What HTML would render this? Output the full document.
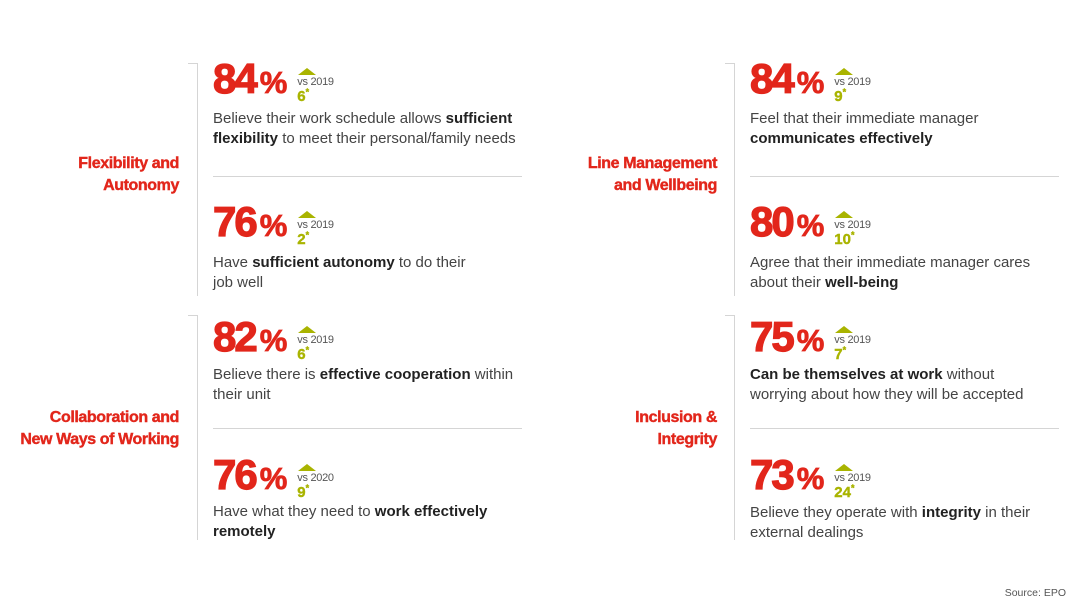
<!DOCTYPE html>
<html><head><meta charset="utf-8"><style>
body{margin:0;width:1080px;height:608px;background:#fff;position:relative;overflow:hidden;font-family:"Liberation Sans",sans-serif;}
.a{position:absolute;}
.lab{position:absolute;color:#e2261b;font-weight:bold;font-size:16px;line-height:22px;text-align:right;letter-spacing:-0.4px;-webkit-text-stroke:0.4px #e2261b;}
.row{position:absolute;display:flex;align-items:flex-start;white-space:nowrap;}
.num{color:#e2261b;font-weight:bold;font-size:42px;line-height:42px;letter-spacing:-2px;-webkit-text-stroke:1.2px #e2261b;}
.num .p{font-size:31px;letter-spacing:0;margin-left:4px;-webkit-text-stroke:0.8px #e2261b;}
.chg{position:relative;width:40px;height:40px;margin-left:10px;margin-top:10px;}
.tri{position:absolute;left:1px;top:0;width:0;height:0;border-left:9px solid transparent;border-right:9px solid transparent;border-bottom:7px solid #a9b400;}
.vs{position:absolute;left:0;top:8px;font-size:11px;color:#555;white-space:nowrap;letter-spacing:-0.3px;}
.g{position:absolute;left:0;top:20px;font-size:15px;font-weight:bold;color:#a9b400;white-space:nowrap;-webkit-text-stroke:0.4px #a9b400;}
.g sup{font-size:9px;vertical-align:top;position:relative;top:-1px;}
.d{position:absolute;font-size:15px;line-height:20px;color:#444;white-space:nowrap;}
.d b{color:#222;}
.sep{position:absolute;height:1px;background:#d5d5d5;}
.vl{position:absolute;width:1px;background:#d5d5d5;}
.tk{position:absolute;height:1px;width:9px;background:#d5d5d5;}
</style></head><body>

<div class="lab" style="right:901px;top:153px;">Flexibility and<br>Autonomy</div>
<div class="lab" style="right:901px;top:407px;">Collaboration and<br>New Ways of Working</div>
<div class="lab" style="right:363px;top:153px;">Line Management<br>and Wellbeing</div>
<div class="lab" style="right:363px;top:407px;">Inclusion &amp;<br>Integrity</div>

<div class="vl" style="left:197px;top:63px;height:233px"></div><div class="tk" style="left:188px;top:63px"></div>
<div class="vl" style="left:197px;top:315px;height:225px"></div><div class="tk" style="left:188px;top:315px"></div>
<div class="vl" style="left:734px;top:63px;height:233px"></div><div class="tk" style="left:725px;top:63px"></div>
<div class="vl" style="left:734px;top:315px;height:225px"></div><div class="tk" style="left:725px;top:315px"></div>

<div class="sep" style="left:213px;top:176px;width:309px"></div>
<div class="sep" style="left:213px;top:428px;width:309px"></div>
<div class="sep" style="left:750px;top:176px;width:309px"></div>
<div class="sep" style="left:750px;top:428px;width:309px"></div>

<div class="row" style="left:213px;top:58px"><div class="num">84<span class="p">%</span></div><div class="chg"><div class="tri"></div><div class="vs">vs 2019</div><div class="g">6<sup>*</sup></div></div></div>
<div class="d" style="left:213px;top:109px">Believe their work schedule allows <b>sufficient</b><br><b>flexibility</b> to meet their personal/family needs</div>

<div class="row" style="left:213px;top:201px"><div class="num">76<span class="p">%</span></div><div class="chg"><div class="tri"></div><div class="vs">vs 2019</div><div class="g">2<sup>*</sup></div></div></div>
<div class="d" style="left:213px;top:253px">Have <b>sufficient autonomy</b> to do their<br>job well</div>

<div class="row" style="left:213px;top:316px"><div class="num">82<span class="p">%</span></div><div class="chg"><div class="tri"></div><div class="vs">vs 2019</div><div class="g">6<sup>*</sup></div></div></div>
<div class="d" style="left:213px;top:365px">Believe there is <b>effective cooperation</b> within<br>their unit</div>

<div class="row" style="left:213px;top:454px"><div class="num">76<span class="p">%</span></div><div class="chg"><div class="tri"></div><div class="vs">vs 2020</div><div class="g">9<sup>*</sup></div></div></div>
<div class="d" style="left:213px;top:502px">Have what they need to <b>work effectively</b><br><b>remotely</b></div>

<div class="row" style="left:750px;top:58px"><div class="num">84<span class="p">%</span></div><div class="chg"><div class="tri"></div><div class="vs">vs 2019</div><div class="g">9<sup>*</sup></div></div></div>
<div class="d" style="left:750px;top:109px">Feel that their immediate manager<br><b>communicates effectively</b></div>

<div class="row" style="left:750px;top:201px"><div class="num">80<span class="p">%</span></div><div class="chg"><div class="tri"></div><div class="vs">vs 2019</div><div class="g">10<sup>*</sup></div></div></div>
<div class="d" style="left:750px;top:253px">Agree that their immediate manager cares<br>about their <b>well-being</b></div>

<div class="row" style="left:750px;top:316px"><div class="num">75<span class="p">%</span></div><div class="chg"><div class="tri"></div><div class="vs">vs 2019</div><div class="g">7<sup>*</sup></div></div></div>
<div class="d" style="left:750px;top:365px"><b>Can be themselves at work</b> without<br>worrying about how they will be accepted</div>

<div class="row" style="left:750px;top:454px"><div class="num">73<span class="p">%</span></div><div class="chg"><div class="tri"></div><div class="vs">vs 2019</div><div class="g">24<sup>*</sup></div></div></div>
<div class="d" style="left:750px;top:503px">Believe they operate with <b>integrity</b> in their<br>external dealings</div>

<div class="a" style="right:14px;top:587px;font-size:10.5px;color:#555;">Source: EPO</div>
</body></html>
